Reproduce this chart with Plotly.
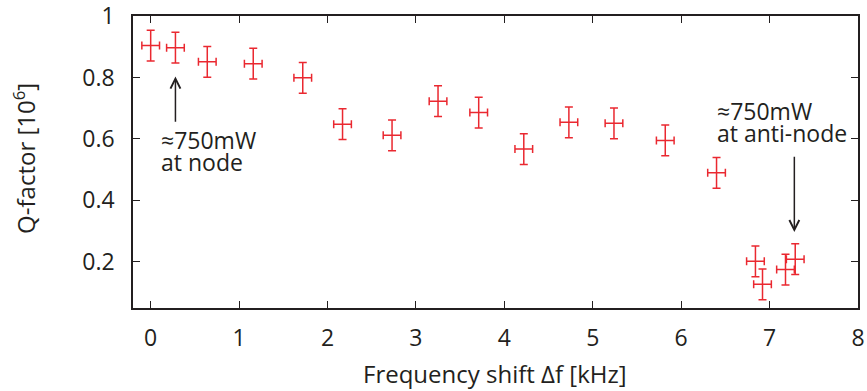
import plotly.graph_objects as go

freq_khz = [0.0, 0.28, 0.64, 1.16, 1.72, 2.17, 2.73, 3.25, 3.71, 4.22, 4.73, 5.24, 5.82, 6.40, 6.84, 6.92, 7.18, 7.29]
q_factor = [0.904, 0.897, 0.851, 0.845, 0.799, 0.648, 0.612, 0.723, 0.686, 0.567, 0.654, 0.651, 0.595, 0.490, 0.202, 0.127, 0.175, 0.209]
freq_err = [0.1] * len(freq_khz)
q_err = [0.05] * len(q_factor)

x_ticks = [0, 1, 2, 3, 4, 5, 6, 7, 8]
y_ticks = [0.2, 0.4, 0.6, 0.8, 1]
y_tick_text = ["0.2", "0.4", "0.6", "0.8", "1"]

RED = "rgb(234,40,48)"
INK = "#231f20"
FONT = "Open Sans"

fig = go.Figure()
fig.add_trace(go.Scatter(
    x=freq_khz, y=q_factor, mode="markers",
    marker=dict(size=1, color=RED, opacity=0),
    error_x=dict(type="data", array=freq_err, color=RED, thickness=1.5, width=4),
    error_y=dict(type="data", array=q_err, color=RED, thickness=1.5, width=4),
    showlegend=False, hoverinfo="x+y",
))

axis_common = dict(
    showline=True, linecolor=INK, linewidth=1.5, mirror="ticks",
    ticks="inside", ticklen=7, tickwidth=1.2, tickcolor=INK,
    showgrid=False, zeroline=False, automargin=False,
    ticklabeloverflow="allow",
    tickfont=dict(family=FONT, size=23, color=INK),
)

fig.update_layout(
    width=867, height=391,
    margin=dict(l=133, r=9, t=16, b=83),
    paper_bgcolor="white", plot_bgcolor="white",
    font=dict(family=FONT, size=22, color=INK),
    xaxis=dict(range=[-0.2, 8], tickvals=x_ticks, ticklabelstandoff=9, **axis_common),
    yaxis=dict(range=[0.05, 1], tickvals=y_ticks, ticktext=y_tick_text, ticklabelstandoff=12,
               **axis_common),
)

# axis titles
fig.add_annotation(x=0.499, y=-0.224, xref="paper", yref="paper", text="Frequency shift Δf [kHz]",
                   showarrow=False, xanchor="center", yanchor="middle",
                   font=dict(family=FONT, size=24, color=INK))
fig.add_annotation(x=-0.149, y=0.514, xref="paper", yref="paper", text="Q-factor [10<sup>6</sup>]",
                   showarrow=False, xanchor="center", yanchor="middle", textangle=-90,
                   font=dict(family=FONT, size=24, color=INK))

# arrows
fig.add_annotation(x=0.28, y=0.803, ax=0.28, ay=0.651, xref="x", yref="y", axref="x", ayref="y",
                   text="", showarrow=True, arrowhead=5, arrowsize=1.3, arrowwidth=1.5,
                   arrowcolor=INK, standoff=0, startstandoff=0)
fig.add_annotation(x=7.28, y=0.297, ax=7.28, ay=0.547, xref="x", yref="y", axref="x", ayref="y",
                   text="", showarrow=True, arrowhead=5, arrowsize=1.3, arrowwidth=1.5,
                   arrowcolor=INK, standoff=0, startstandoff=0)

# labels (one annotation per line for tight spacing)
labels = [
    ("≈750mW", 0.09, 0.595),
    ("at node", 0.09, 0.524),
    ("≈750mW", 6.387, 0.692),
    ("at anti-node", 6.387, 0.620),
]
for txt, lx, ly in labels:
    fig.add_annotation(x=lx, y=ly, xref="x", yref="y", text=txt, showarrow=False,
                       xanchor="left", yanchor="middle",
                       font=dict(family=FONT, size=23, color=INK))

fig.write_html("out.html", config={"displayModeBar": False},
               post_script="document.body.style.margin='0';document.body.style.overflow='hidden';")
